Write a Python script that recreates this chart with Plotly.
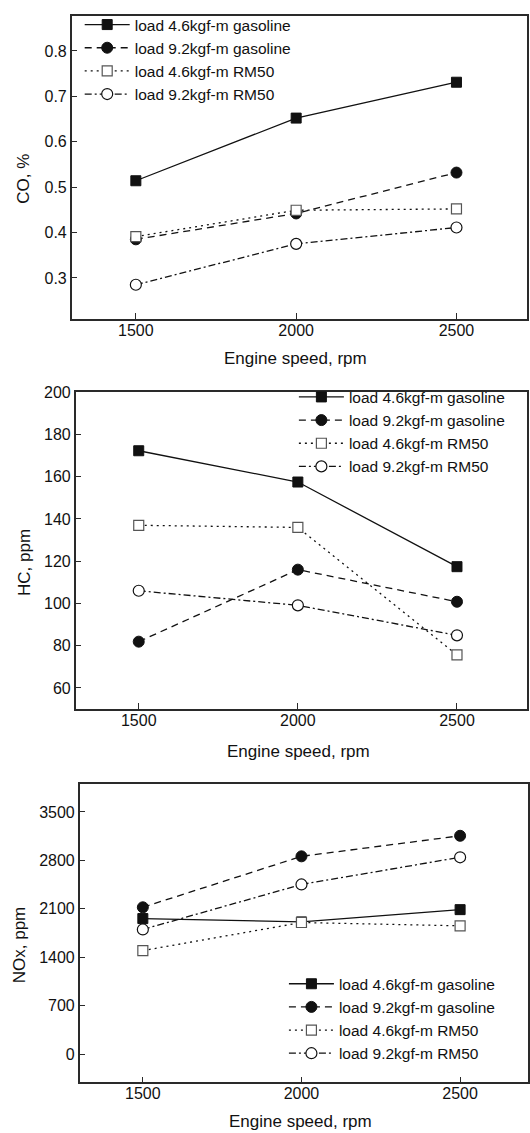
import plotly.graph_objects as go

W, H = 530, 1133

rpm = [1500, 2000, 2500]
x_ticks = [1500, 2000, 2500]

series_names = ["load 4.6kgf-m gasoline", "load 9.2kgf-m gasoline",
                "load 4.6kgf-m RM50", "load 9.2kgf-m RM50"]

co_gas_46 = [0.514, 0.652, 0.731]
co_gas_92 = [0.385, 0.442, 0.532]
co_rm_46 = [0.391, 0.449, 0.452]
co_rm_92 = [0.285, 0.375, 0.411]

hc_gas_46 = [172.3, 157.5, 117.4]
hc_gas_92 = [81.9, 116.0, 100.8]
hc_rm_46 = [137.0, 136.0, 75.6]
hc_rm_92 = [106.0, 99.1, 84.9]

nox_gas_46 = [1960, 1912, 2089]
nox_gas_92 = [2123, 2859, 3156]
nox_rm_46 = [1497, 1903, 1855]
nox_rm_92 = [1803, 2453, 2845]

co_ticks = [0.3, 0.4, 0.5, 0.6, 0.7, 0.8]
hc_ticks = [60, 80, 100, 120, 140, 160, 180, 200]
nox_ticks = [0, 700, 1400, 2100, 2800, 3500]

y_titles = ["CO, %", "HC, ppm", "NOx, ppm"]
x_title = "Engine speed, rpm"

FONT = "Liberation Sans, Arial, sans-serif"
INK = "#111111"
AX = "#2a2a2a"

styles = [
    dict(line=dict(color=INK, width=1.3, dash="solid"),
         marker=dict(symbol="square", size=10, color=INK, line=dict(color=INK, width=1))),
    dict(line=dict(color=INK, width=1.3, dash="7px,5px"),
         marker=dict(symbol="circle", size=11, color=INK, line=dict(color=INK, width=1))),
    dict(line=dict(color=INK, width=1.3, dash="2px,4px"),
         marker=dict(symbol="square", size=10, color="white", line=dict(color="#555555", width=1.2))),
    dict(line=dict(color=INK, width=1.3, dash="7px,3px,2px,3px"),
         marker=dict(symbol="circle", size=11, color="white", line=dict(color=INK, width=1.2))),
]

panels = [
    (co_gas_46, co_gas_92, co_rm_46, co_rm_92),
    (hc_gas_46, hc_gas_92, hc_rm_46, hc_rm_92),
    (nox_gas_46, nox_gas_92, nox_rm_46, nox_rm_92),
]

fig = go.Figure()
for p, data in enumerate(panels):
    sfx = "" if p == 0 else str(p + 1)
    for i, ys in enumerate(data):
        fig.add_trace(go.Scatter(
            x=rpm, y=ys, mode="lines+markers", name=series_names[i],
            xaxis="x" + sfx, yaxis="y" + sfx,
            legend="legend" + sfx,
            line=styles[i]["line"], marker=styles[i]["marker"],
        ))

def px_dom_y(top, bottom):
    return [(H - bottom) / H, (H - top) / H]

axis_common = dict(showline=True, linecolor=AX, linewidth=1.5, mirror=True,
                   ticks="inside", ticklen=6, tickwidth=1.2, tickcolor=AX,
                   showgrid=False, zeroline=False,
                   tickfont=dict(family=FONT, size=16, color=INK))

layout = dict(
    width=W, height=H, margin=dict(l=0, r=0, t=0, b=0),
    paper_bgcolor="white", plot_bgcolor="white",
    font=dict(family=FONT, color=INK),
    showlegend=True,
)

# panel geometry (px)
geo = [
    dict(x0=72, x1=529, top=8, bottom=313, xr=[1300, 2720], yr=[0.21, 0.877], yt=co_ticks),
    dict(x0=76, x1=529, top=387, bottom=706, xr=[1302, 2720], yr=[50, 200], yt=hc_ticks),
    dict(x0=80, x1=530, top=782, bottom=1082, xr=[1301, 2714], yr=[-406, 3897], yt=nox_ticks),
]

for p, g in enumerate(geo):
    sfx = "" if p == 0 else str(p + 1)
    layout["xaxis" + sfx] = dict(axis_common, domain=[g["x0"] / W, min(g["x1"] / W, 1.0)],
                                 range=g["xr"], tickvals=x_ticks, anchor="y" + sfx,
                                 ticklabelstandoff=-4)
    layout["yaxis" + sfx] = dict(axis_common, domain=px_dom_y(g["top"], g["bottom"]),
                                 range=g["yr"], tickvals=g["yt"], anchor="x" + sfx)

legend_common = dict(font=dict(family=FONT, size=15.5, color=INK), bgcolor="rgba(0,0,0,0)",
                     borderwidth=0, xanchor="left", yanchor="top", tracegroupgap=0,
                     itemwidth=45)
layout["legend"] = dict(legend_common, x=80 / W, y=(H - 0) / H)
layout["legend2"] = dict(legend_common, x=295 / W, y=(H - 375) / H)
layout["legend3"] = dict(legend_common, x=285 / W, y=(H - 966) / H)

fig.update_layout(**layout)

# axis titles as annotations
ytitle_pos = [(24, 172), (24, 558), (19, 943)]
xtitle_pos = [(297, 353), (300, 749), (302, 1121)]
for t, (xp, yp) in zip(y_titles, ytitle_pos):
    fig.add_annotation(text=t, x=xp / W, y=(H - yp) / H, xref="paper", yref="paper",
                       showarrow=False, textangle=-90, xanchor="center", yanchor="middle",
                       font=dict(family=FONT, size=17, color=INK))
for (xp, yp) in xtitle_pos:
    fig.add_annotation(text=x_title, x=xp / W, y=(H - yp) / H, xref="paper", yref="paper",
                       showarrow=False, xanchor="center", yanchor="middle",
                       font=dict(family=FONT, size=17, color=INK))

fig.write_html("out.html")
